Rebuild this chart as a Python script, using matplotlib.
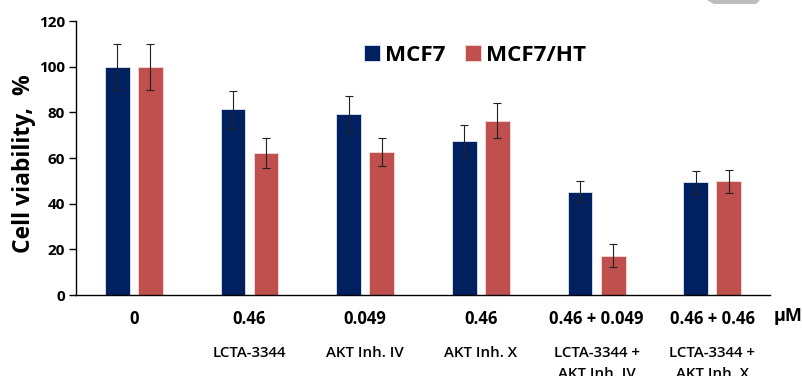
import numpy as np
import matplotlib
matplotlib.use("Agg")
import matplotlib.pyplot as plt
from matplotlib.patches import Polygon
from matplotlib.transforms import blended_transform_factory

# data
doses = ["0", "0.46", "0.049", "0.46", "0.46 + 0.049", "0.46 + 0.46"]
agents = ["", "LCTA-3344", "AKT Inh. IV", "AKT Inh. X",
          "LCTA-3344 +\nAKT Inh. IV", "LCTA-3344 +\nAKT Inh. X"]
mcf7 = [100, 81.3, 79.2, 67.4, 45.3, 49.3]
mcf7_err = [10, 8.2, 8.1, 7.0, 4.6, 5.0]
mcf7ht = [100, 62.3, 62.6, 76.4, 17.3, 49.9]
mcf7ht_err = [10, 6.5, 6.3, 7.5, 5.0, 5.0]

NAVY = "#002060"
RED = "#C0504D"

plt.rcParams["font.family"] = ["Open Sans", "DejaVu Sans"]

fig = plt.figure(figsize=(8.03, 3.76), dpi=100)
ax = fig.add_axes([0.0946, 0.2154, 0.8644, 0.7286])

x = np.arange(len(doses))
w = 0.215
off = 0.143
err_kw = dict(ecolor="#222222", elinewidth=0.8, capsize=3, capthick=0.8)
ax.bar(x - off, mcf7, w, yerr=mcf7_err, color=NAVY, edgecolor="#dfe6f0",
       linewidth=0.6, error_kw=err_kw, label="MCF7")
ax.bar(x + off, mcf7ht, w, yerr=mcf7ht_err, color=RED, edgecolor="#f4dcdb",
       linewidth=0.6, error_kw=err_kw, label="MCF7/HT")

ax.set_xlim(-0.5, 5.5)
ax.set_ylim(0, 120)
ax.set_yticks(range(0, 121, 20))
ax.set_xticks(x)
ax.set_xticklabels(doses, fontsize=12, fontweight="bold")
ax.tick_params(axis="x", length=0, pad=11)
ax.tick_params(axis="y", length=5, width=1, labelsize=11, pad=3)
for lab in ax.get_yticklabels():
    lab.set_fontweight("bold")
for s in ["top", "right"]:
    ax.spines[s].set_visible(False)
ax.spines["left"].set_linewidth(1)
ax.spines["bottom"].set_linewidth(1)

ax.set_ylabel("Cell viability,  %", fontsize=16.5, fontweight="bold")
ax.yaxis.set_label_coords(-0.058, 0.478)

leg = ax.legend(loc="upper left", bbox_to_anchor=(0.402, 0.945), ncol=2,
                frameon=False, prop=dict(size=16.2, weight="bold"),
                handlelength=0.7, handleheight=0.7, handletextpad=0.25,
                columnspacing=0.85, borderaxespad=0)

trans = blended_transform_factory(ax.transData, fig.transFigure)
for xi, txt in zip(x, agents):
    ax.text(xi, 1 - 346 / 376, txt, transform=trans, ha="center", va="top",
            fontsize=10.8, fontweight="semibold", linespacing=1.65,
            clip_on=False)

fig.text(788 / 803, 1 - 316 / 376, "µM", ha="center", va="center",
         fontsize=13, fontweight="bold")

# grey artefact at the top edge
fig.patches.append(Polygon([(707 / 803, 1.0), (760 / 803, 1.0),
                            (756 / 803, 1 - 4 / 376), (714 / 803, 1 - 4 / 376)],
                           closed=True, transform=fig.transFigure,
                           facecolor="#bdbdbd", edgecolor="none"))

fig.savefig("out.png", dpi=100)
